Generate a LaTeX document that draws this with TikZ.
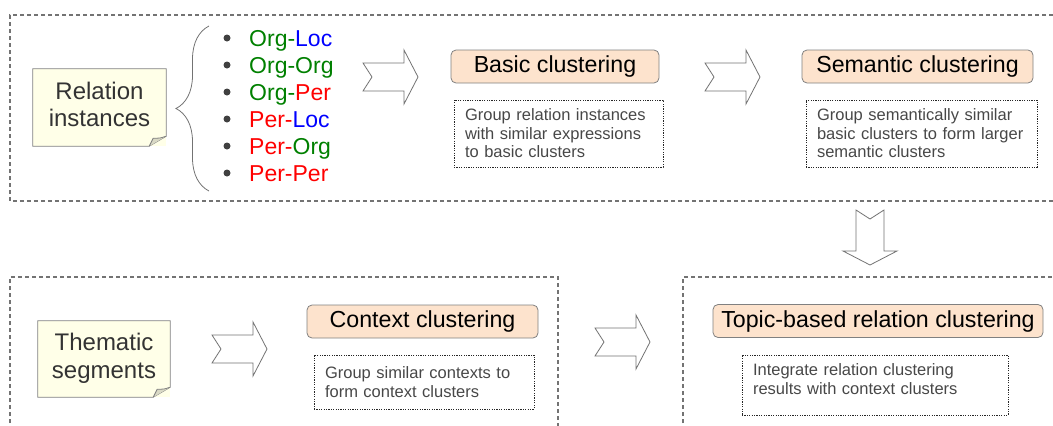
\documentclass[tikz,border=0pt]{standalone}
\usepackage{fontspec}
\setmainfont{Liberation Sans}
\usetikzlibrary{decorations.pathreplacing}
\definecolor{notefill}{RGB}{255,255,232}
\definecolor{stagefill}{RGB}{253,227,205}
\definecolor{orggreen}{RGB}{0,128,0}
\definecolor{locblue}{RGB}{0,0,255}
\definecolor{perred}{RGB}{255,0,0}
\tikzset{
  frame/.style={draw=black!55,line width=1.3pt,dash pattern=on 4pt off 3pt},
  note/.style={fill=notefill,text=black!80,align=center,inner sep=0pt,
    font=\fontsize{24}{27.5}\selectfont,minimum width=133pt,minimum height=77pt},
  stage/.style={draw=black!50,line width=0.8pt,fill=stagefill,rounded corners=5pt,
    inner sep=0pt,font=\fontsize{23.2}{26}\selectfont,minimum height=33pt},
  desc/.style={draw=black!85,line width=0.8pt,dash pattern=on 1.2pt off 1.2pt,
    text=black!72,align=left,inner xsep=11pt,inner ysep=0pt,
    font=\fontsize{16.5}{18.5}\selectfont},
  item/.style={anchor=base west,inner sep=0pt,font=\fontsize{23}{26}\selectfont},
  blockarrow/.pic={
    \draw[black!55,line width=0.8pt,fill=white]
      (-55,-14) -- (-14,-14) -- (-14,-27) -- (0,0) -- (-14,27)
      -- (-14,14) -- (-55,14) -- (-46,0) -- cycle;}
}
\newcommand{\foldnote}[1]{%
  \draw[black!50,line width=0.8pt] (#1.north west) -- (#1.north east)
    -- ([yshift=10pt]#1.south east) -- ([xshift=-17pt]#1.south east)
    -- (#1.south west) -- cycle;
  \draw[black!50,line width=0.8pt,fill=notefill!85!black]
    ([yshift=10pt]#1.south east) .. controls ([xshift=-6pt,yshift=8pt]#1.south east)
    .. ([xshift=-13pt,yshift=8pt]#1.south east) -- ([xshift=-17pt]#1.south east);}
\begin{document}
\begin{tikzpicture}[x=1pt,y=-1pt]
  \useasboundingbox (0,0) rectangle (1053,426);
  \draw[frame] (1060,15) -- (10,15) -- (10,201) -- (1060,201);
  \draw[frame] (10,430) -- (10,277) -- (558,277) -- (558,430);
  \draw[frame] (683,430) -- (683,277) -- (1060,277);

  \node[note] (relnote) at (99.5,107.5) {Relation\\instances\\[-21pt]\mbox{}};
  \foldnote{relnote}
  \draw[decorate,decoration={brace,amplitude=33pt},black!55,line width=0.8pt]
    (209,191) -- (209,26);
  \foreach \a/\ca/\b/\cb [count=\i] in
    {Org/orggreen/Loc/locblue, Org/orggreen/Org/orggreen, Org/orggreen/Per/perred,
     Per/perred/Loc/locblue, Per/perred/Org/orggreen, Per/perred/Per/perred}
  {
    \fill[black!75] (227,{11+27*\i}) circle (3.5pt);
    \node[item] (pair\i) at (249,{19.5+27*\i}) {\textcolor{\ca}{\a-}\textcolor{\cb}{\b}};
  }

  \pic at (418,77) {blockarrow};
  \node[stage,minimum width=208pt] (basic) at (555,66.5) {Basic clustering};
  \node[desc,text width=187pt,minimum width=209pt,minimum height=67pt] (basicdesc)
    at (558.5,133.5) {Group relation instances\\with similar expressions\\to basic clusters};

  \pic at (760,77) {blockarrow};
  \node[stage,minimum width=231pt] (semantic) at (917.5,66.5) {Semantic clustering};
  \node[desc,text width=209pt,minimum width=231pt,minimum height=67pt] (semanticdesc)
    at (921.5,133.5) {Group semantically similar\\basic clusters to form larger\\semantic clusters};

  \pic[rotate=-90] at (870,265) {blockarrow};

  \node[note,minimum width=132pt,minimum height=76pt] (thematic) at (104,359)
    {Thematic\\segments\\[-21pt]\mbox{}};
  \foldnote{thematic}
  \pic at (267,349) {blockarrow};
  \node[stage,minimum width=231pt] (context) at (422.5,321.5) {Context clustering};
  \node[desc,text width=198pt,minimum width=220pt,minimum height=54pt] (contextdesc)
    at (424,382) {Group similar contexts to\\form context clusters};

  \pic at (650,342) {blockarrow};
  \node[stage,minimum width=330pt] (topic) at (878,321) {Topic-based relation clustering};
  \node[desc,text width=244pt,minimum width=266pt,minimum height=60pt] (topicdesc)
    at (875,385) {Integrate relation clustering\\results with context clusters\\[-7pt]\mbox{}};
\end{tikzpicture}
\end{document}
